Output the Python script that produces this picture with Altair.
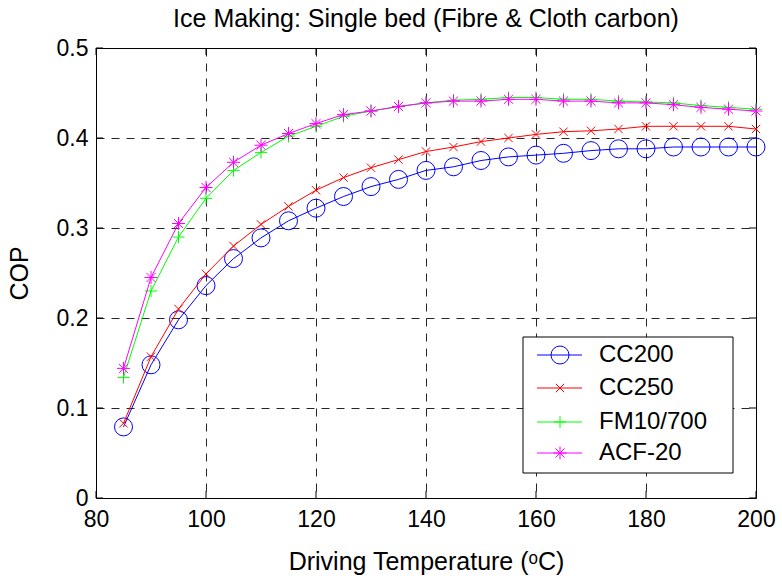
import altair as alt
import pandas as pd

# Driving temperatures (deg C) and COP of each carbon adsorbent
temps = [85, 90, 95, 100, 105, 110, 115, 120, 125, 130, 135, 140,
         145, 150, 155, 160, 165, 170, 175, 180, 185, 190, 195, 200]
cc200 = [0.079, 0.148, 0.198, 0.236, 0.266, 0.289, 0.308, 0.322, 0.335, 0.346, 0.354, 0.364,
         0.368, 0.375, 0.379, 0.381, 0.383, 0.386, 0.388, 0.388, 0.390, 0.390, 0.390, 0.390]
cc250 = [0.083, 0.157, 0.210, 0.249, 0.280, 0.304, 0.324, 0.342, 0.356, 0.367, 0.376, 0.385,
         0.390, 0.396, 0.400, 0.404, 0.407, 0.408, 0.410, 0.413, 0.413, 0.413, 0.413, 0.410]
fm10_700 = [0.134, 0.230, 0.290, 0.333, 0.364, 0.384, 0.402, 0.413, 0.424, 0.430, 0.435, 0.439,
            0.442, 0.443, 0.445, 0.445, 0.443, 0.443, 0.441, 0.440, 0.439, 0.436, 0.434, 0.432]
acf20 = [0.144, 0.245, 0.305, 0.345, 0.373, 0.392, 0.405, 0.416, 0.426, 0.430, 0.435, 0.439,
         0.441, 0.441, 0.443, 0.443, 0.441, 0.441, 0.439, 0.439, 0.437, 0.434, 0.432, 0.430]

series_names = ["CC200", "CC250", "FM10/700", "ACF-20"]
series_values = [cc200, cc250, fm10_700, acf20]

x_ticks = [80, 100, 120, 140, 160, 180, 200]
y_ticks = [0, 0.1, 0.2, 0.3, 0.4, 0.5]

FONT = "Liberation Sans"
W, H = 660, 450

colors = ["#0000ff", "#ff0000", "#00ff00", "#ff00ff"]
shapes = [
    "circle",
    "M-1,-1L1,1M-1,1L1,-1",
    "M-1,0L1,0M0,-1L0,1",
    "M-1,0L1,0M0,-1L0,1M-0.7,-0.7L0.7,0.7M-0.7,0.7L0.7,-0.7",
]
sizes = [324, 70, 150, 170]

rows = []
for name, vals in zip(series_names, series_values):
    for t, v in zip(temps, vals):
        rows.append({"series": name, "temp": t, "cop": v})
df = pd.DataFrame(rows)

X = alt.X(
    "temp:Q",
    scale=alt.Scale(domain=[80, 200], nice=False, zero=False),
    axis=alt.Axis(values=x_ticks, title="Driving Temperature (ᵒC)",
                  labelPadding=10, titlePadding=18),
)
Y = alt.Y(
    "cop:Q",
    scale=alt.Scale(domain=[0, 0.5], nice=False),
    axis=alt.Axis(values=y_ticks, title="COP",
                  labelExpr="datum.value == 0 ? '0' : format(datum.value, '.1f')",
                  labelPadding=8, titlePadding=24),
)

layers = []

# inward tick marks on all four sides
xt = pd.DataFrame({"temp": x_ticks})
yt = pd.DataFrame({"cop": y_ticks})
TL = 7
layers.append(alt.Chart(xt).mark_rule(color="black", strokeWidth=1).encode(
    x=X, y=alt.value(H), y2=alt.value(H - TL)))
layers.append(alt.Chart(xt).mark_rule(color="black", strokeWidth=1).encode(
    x=X, y=alt.value(0), y2=alt.value(TL)))
layers.append(alt.Chart(yt).mark_rule(color="black", strokeWidth=1).encode(
    y=Y, x=alt.value(0), x2=alt.value(TL)))
layers.append(alt.Chart(yt).mark_rule(color="black", strokeWidth=1).encode(
    y=Y, x=alt.value(W), x2=alt.value(W - TL)))

# one line + marker layer per series, drawn in legend order
for name, color, shape, size in zip(series_names, colors, shapes, sizes):
    base = alt.Chart(df).transform_filter(alt.datum.series == name)
    layers.append(base.mark_line(color=color, strokeWidth=1).encode(x=X, y=Y))
    layers.append(base.mark_point(shape=shape, size=size, color=color, filled=False,
                                  strokeWidth=1, opacity=1).encode(x=X, y=Y))

# legend box
LX0, LX1, LY0, LY1 = 427, 637, 289, 425
legend_rows = [307, 340, 374, 405]
box_df = pd.DataFrame({"series": ["legend"]})
layers.append(alt.Chart(box_df).mark_rect(fill="white", stroke="black", strokeWidth=1).encode(
    x=alt.value(LX0), x2=alt.value(LX1), y=alt.value(LY0), y2=alt.value(LY1)))
for name, color, shape, size, ly in zip(series_names, colors, shapes, sizes, legend_rows):
    ent = alt.Chart(pd.DataFrame({"series": [name]}))
    layers.append(ent.mark_rule(color=color, strokeWidth=1).encode(
        x=alt.value(441), x2=alt.value(486), y=alt.value(ly)))
    layers.append(ent.mark_point(shape=shape, size=size, color=color, filled=False,
                                 strokeWidth=1, opacity=1).encode(
        x=alt.value(464), y=alt.value(ly)))
    layers.append(ent.mark_text(font=FONT, fontSize=24, align="left", baseline="middle",
                                color="black").encode(
        x=alt.value(503), y=alt.value(ly), text="series:N"))

chart = alt.layer(*layers).properties(
    width=W,
    height=H,
    title=alt.TitleParams(
        text="Ice Making: Single bed (Fibre & Cloth carbon)",
        font=FONT, fontSize=25, fontWeight="normal", color="black",
        anchor="middle", offset=5,
    ),
    autosize=alt.AutoSizeParams(type="none"),
    padding={"left": 96, "top": 48, "right": 26, "bottom": 83},
).configure_view(
    stroke="black", strokeWidth=1
).configure_axis(
    grid=True, gridColor="black", gridDash=[8, 7], gridWidth=1, gridOpacity=0.85,
    domain=False, ticks=False,
    labelFont=FONT, labelFontSize=23, labelColor="black",
    labelFlush=False, labelOverlap=False,
    titleFont=FONT, titleFontSize=25, titleFontWeight="normal", titleColor="black",
)

chart.save("out.html", embed_options={"renderer": "svg", "actions": False})
